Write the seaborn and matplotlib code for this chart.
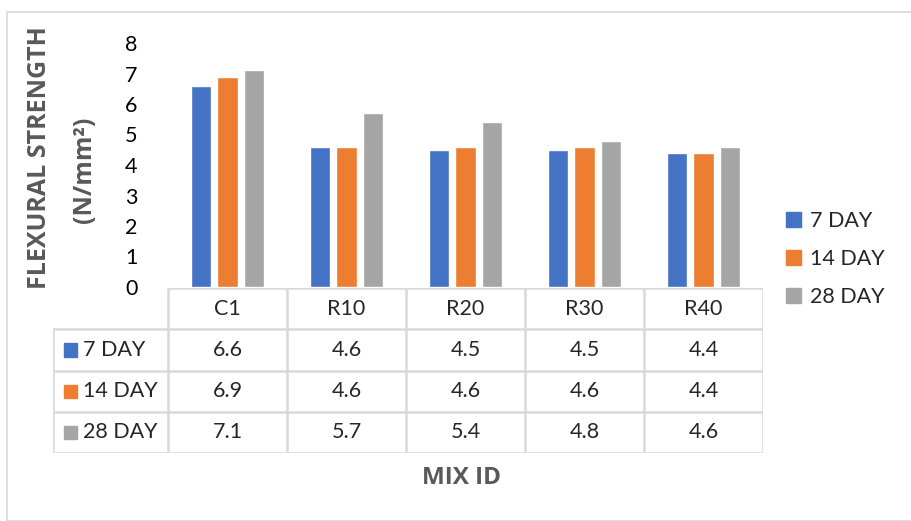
import pandas as pd
import matplotlib.pyplot as plt
import matplotlib.patches as mpatches
import seaborn as sns

# data
mixes = ["C1", "R10", "R20", "R30", "R40"]
series = ["7 DAY", "14 DAY", "28 DAY"]
day7 = [6.6, 4.6, 4.5, 4.5, 4.4]
day14 = [6.9, 4.6, 4.6, 4.6, 4.4]
day28 = [7.1, 5.7, 5.4, 4.8, 4.6]
colors = ["#4472C4", "#ED7D31", "#A5A5A5"]

df = pd.DataFrame({"Mix": mixes * 3,
                   "Age": [s for s in series for _ in mixes],
                   "Strength": day7 + day14 + day28})

sns.set_style("white")
plt.rcParams["font.family"] = ["Lato", "DejaVu Sans"]
FS = 15.5

W, H = 911, 521
fig = plt.figure(figsize=(W / 100, H / 100), dpi=100)
fig.patches.append(mpatches.Rectangle((7 / W, 0), 1, 1 - 12 / H, transform=fig.transFigure,
                                      fill=False, edgecolor="#d9d9d9", lw=1.2))

# bar area
ax = fig.add_axes([168 / W, (H - 287) / H, 595 / W, 244 / H])
sns.barplot(data=df, x="Mix", y="Strength", hue="Age", palette=colors,
            width=0.675, gap=0.24, saturation=1, ax=ax, legend=False)
ax.set_ylim(0, 8)
ax.set_xlim(-0.5, 4.5)
ax.set_yticks(range(9))
ax.tick_params(axis="y", length=0, pad=22, labelsize=FS, labelcolor="#000000")
ax.set_xticks([])
ax.set_xlabel("")
ax.set_ylabel("")
for s in ax.spines.values():
    s.set_visible(False)

bold = dict(family=["Open Sans", "DejaVu Sans"], fontweight="bold", color="#595959")
fig.text(40 / W, (H - 158) / H, "FLEXURAL STRENGTH", rotation=90,
         ha="center", va="center", fontsize=18, **bold)
fig.text(84 / W, (H - 170) / H, "(N/mm²)", rotation=90,
         ha="center", va="center", fontsize=18, **bold)

# data table under the bars
tab = fig.add_axes([53 / W, (H - 453) / H, 710 / W, 165 / H])
left = -0.5 - 115 / 119
tab.set_xlim(left, 4.5)
tab.set_ylim(4, 0)
tab.axis("off")
lc, lw = "#d9d9d9", 1.8
tab.plot([-0.5, 4.5], [0, 0], color=lc, lw=lw)
for r in [1, 2, 3, 4]:
    tab.plot([left, 4.5], [r, r], color=lc, lw=lw)
tab.plot([left, left], [1, 4], color=lc, lw=lw)
for c in range(6):
    tab.plot([c - 0.5, c - 0.5], [0, 4], color=lc, lw=lw)

for i, m in enumerate(mixes):
    tab.text(i, 0.5, m, ha="center", va="center", fontsize=FS)
for r, (name, vals, col) in enumerate(zip(series, [day7, day14, day28], colors), start=1):
    tab.add_patch(mpatches.Rectangle((left + 0.09, r + 0.34), 0.11, 0.33, color=col))
    tab.text(left + 0.25, r + 0.5, name, ha="left", va="center", fontsize=FS)
    for i, v in enumerate(vals):
        tab.text(i, r + 0.5, f"{v:.1f}", ha="center", va="center", fontsize=FS)

fig.text(462 / W, (H - 478) / H, "MIX ID", ha="center", va="center",
         fontsize=17.5, **bold)

# legend on the right
handles = [mpatches.Patch(color=c, label=s) for s, c in zip(series, colors)]
fig.legend(handles=handles, loc="center left", bbox_to_anchor=(767 / W, (H - 259) / H),
           frameon=False, fontsize=FS, handlelength=0.7, handleheight=0.7,
           handletextpad=0.4, labelspacing=0.85)

fig.savefig("out.png", dpi=100)
